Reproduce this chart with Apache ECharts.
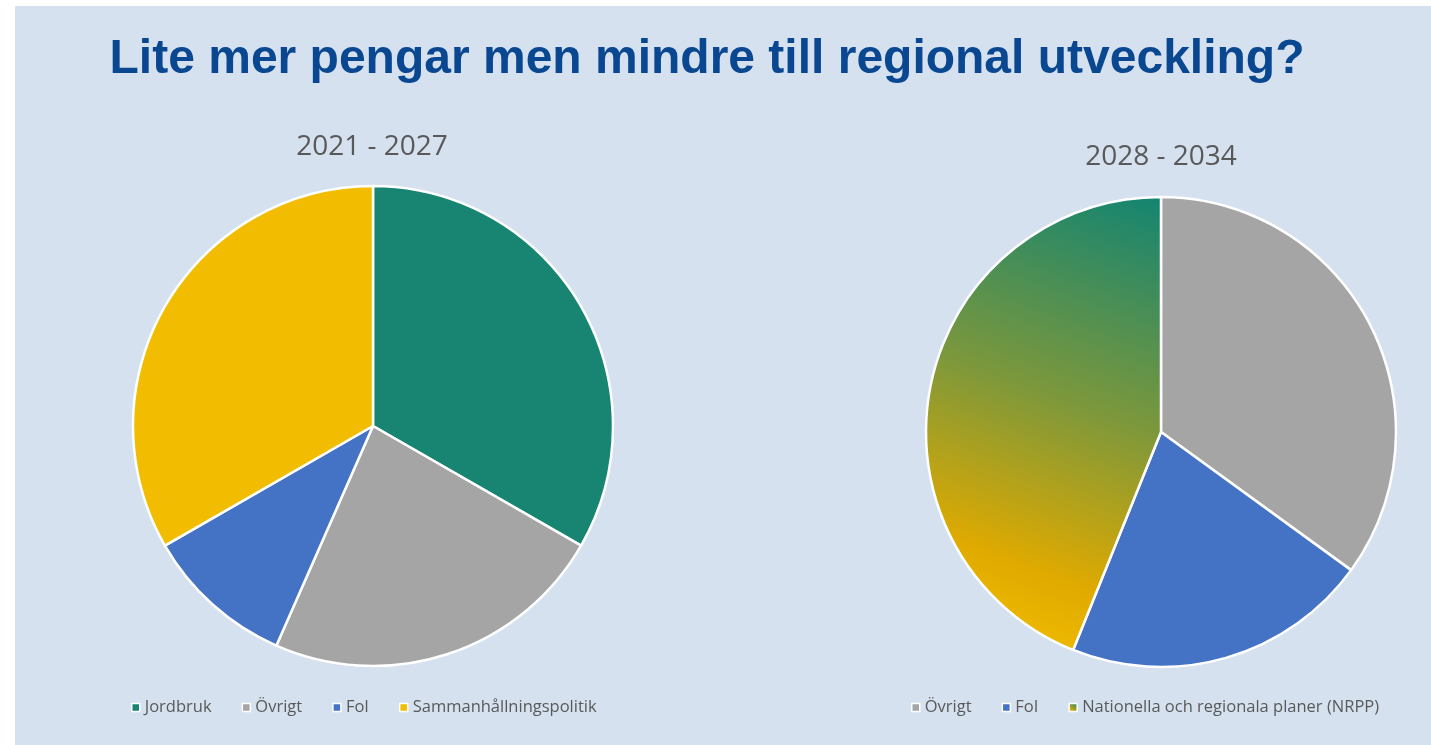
<!DOCTYPE html>
<html>
<head>
<meta charset="utf-8">
<script src="https://cdn.jsdelivr.net/npm/echarts@6/dist/echarts.min.js"></script>
<style>
  html, body { margin: 0; padding: 0; background: #fff; }
  #chart { width: 1431px; height: 745px; }
</style>
</head>
<body>
<div id="chart"></div>
<script>
// data
var periods = ["2021 - 2027", "2028 - 2034"];
var names2021 = ["Jordbruk", "Övrigt", "FoI", "Sammanhållningspolitik"];
var values2021 = [33.3, 23.3, 10.1, 33.3];
var names2028 = ["Övrigt", "FoI", "Nationella och regionala planer (NRPP)"];
var values2028 = [35.0, 21.1, 43.9];

var colors = {
  "Jordbruk": "#178571",
  "Övrigt": "#a5a5a5",
  "FoI": "#4472c4",
  "Sammanhållningspolitik": "#f2bc00",
  "Nationella och regionala planer (NRPP)": new echarts.graphic.LinearGradient(0.9, 0, 0.2, 1, [
    { offset: 0, color: "#168570" },
    { offset: 0.45, color: "#7d983b" },
    { offset: 0.8, color: "#e0aa00" },
    { offset: 1, color: "#f4bf00" }
  ])
};

function pieData(names, values) {
  return names.map(function (n, i) {
    return { name: n, value: values[i], itemStyle: { color: colors[n] } };
  });
}

var myChart = echarts.init(document.getElementById("chart"));

var legendText = { color: "#595959", fontSize: 16.5, fontFamily: "Open Sans" };

var option = {
  animation: false,
  graphic: [
    { type: "rect", z: -10, shape: { x: 15, y: 6, width: 1416, height: 739 }, style: { fill: "#d5e1ef" } },
    {
      type: "text", x: 707, y: 60,
      style: {
        text: "Lite mer pengar men mindre till regional utveckling?",
        font: "bold 48px 'Liberation Sans', Arial, sans-serif",
        fill: "#0a4791", align: "center", verticalAlign: "middle"
      }
    },
    {
      type: "text", x: 372, y: 147,
      style: { text: periods[0], font: "28px 'Open Sans'", fill: "#595959", align: "center", verticalAlign: "middle" }
    },
    {
      type: "text", x: 1161, y: 157,
      style: { text: periods[1], font: "28px 'Open Sans'", fill: "#595959", align: "center", verticalAlign: "middle" }
    }
  ],
  legend: [
    {
      data: names2021, left: 126, top: 694, icon: "rect",
      itemWidth: 8, itemHeight: 8, itemGap: 30,
      itemStyle: { borderColor: "#fff", borderWidth: 1.5 },
      textStyle: legendText
    },
    {
      data: names2028, left: 906, top: 694, icon: "rect",
      itemWidth: 8, itemHeight: 8, itemGap: 30,
      itemStyle: { borderColor: "#fff", borderWidth: 1.5 },
      textStyle: legendText
    }
  ],
  series: [
    {
      name: periods[0],
      type: "pie",
      center: [373, 426],
      radius: 240,
      startAngle: 90,
      clockwise: true,
      label: { show: false },
      labelLine: { show: false },
      itemStyle: { borderColor: "#fff", borderWidth: 2.5 },
      data: pieData(names2021, values2021)
    },
    {
      name: periods[1],
      type: "pie",
      center: [1161, 432],
      radius: 235,
      startAngle: 90,
      clockwise: true,
      label: { show: false },
      labelLine: { show: false },
      itemStyle: { borderColor: "#fff", borderWidth: 2.5 },
      data: pieData(names2028, values2028)
    }
  ]
};

myChart.setOption(option);
</script>
</body>
</html>
